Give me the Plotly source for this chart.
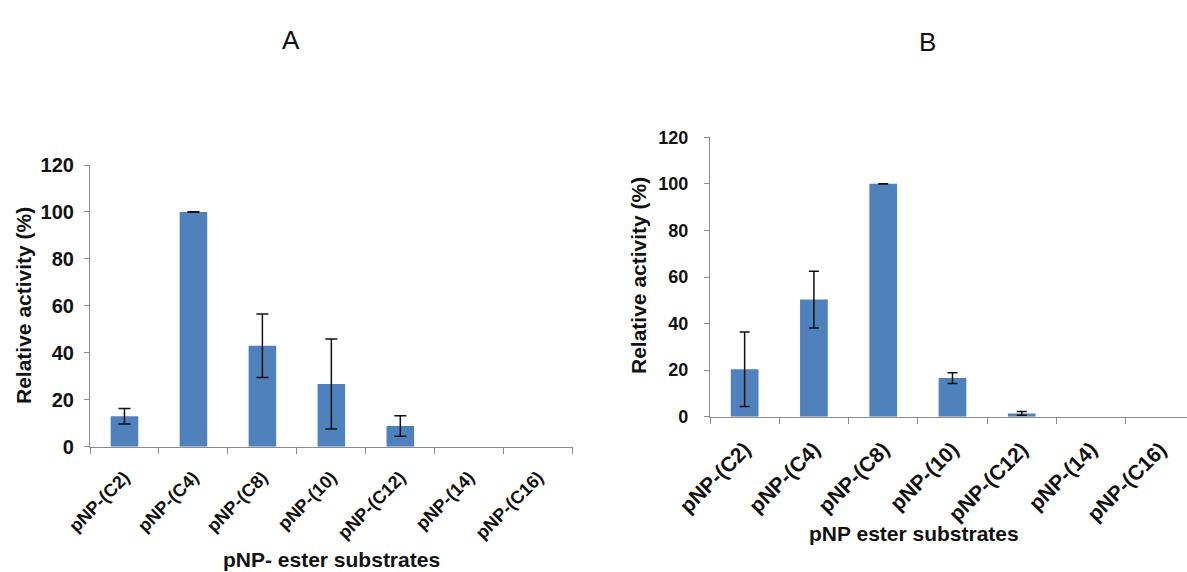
import plotly.graph_objects as go

categories = ["pNP-(C2)", "pNP-(C4)", "pNP-(C8)", "pNP-(10)", "pNP-(C12)", "pNP-(14)", "pNP-(C16)"]
values_a = [13, 100, 43, 26.7, 8.8, 0, 0]
errors_a = [3.3, 0.1, 13.5, 19.2, 4.4, 0, 0]
values_b = [20.4, 50.3, 100, 16.6, 1.4, 0, 0]
errors_b = [16, 12.2, 0.1, 2.3, 0.8, 0, 0]
y_ticks = [0, 20, 40, 60, 80, 100, 120]

W, H = 1187, 572
BAR = "#4F81BD"
AX = "#8C8C8C"
FONT = "Liberation Sans, Arial, sans-serif"

def fx(px):
    return px / W

def fy(py):
    return 1 - py / H

fig = go.Figure()


def add_series(vals, errs, xa, ya, cap):
    fig.add_trace(go.Bar(x=categories, y=vals, marker=dict(color=BAR, line=dict(width=0)),
                         xaxis=xa, yaxis=ya, showlegend=False))
    # error bars only where the bar has a measured value
    keep = [i for i, v in enumerate(vals) if v > 0]
    fig.add_trace(go.Scatter(x=[categories[i] for i in keep], y=[vals[i] for i in keep],
                             mode="markers", marker=dict(size=1, opacity=0),
                             error_y=dict(type="data", array=[errs[i] for i in keep], visible=True,
                                          color="#111111", thickness=1.5, width=cap),
                             xaxis=xa, yaxis=ya, showlegend=False, hoverinfo="skip"))


add_series(values_a, errors_a, "x", "y", 6)
add_series(values_b, errors_b, "x2", "y2", 5)

cat_w_b = (W - 710) / 6.885

common_x = dict(type="category", categoryorder="array", categoryarray=categories,
                showgrid=False, showline=True, linecolor=AX, linewidth=1.2,
                ticks="outside", tickcolor=AX, ticklen=6, tickson="boundaries",
                tickangle=-45, zeroline=False, automargin=False)
common_y = dict(range=[0, 120], tickvals=y_ticks, showgrid=False, showline=True, linecolor=AX,
                linewidth=1.2, ticks="outside", tickcolor=AX, ticklen=5, zeroline=False,
                automargin=False)

fig.update_layout(
    template="none",
    width=W, height=H, margin=dict(l=0, r=0, t=0, b=0, autoexpand=False),
    paper_bgcolor="white", plot_bgcolor="white", bargap=0.6,
    font=dict(family=FONT, color="#111111"),
    xaxis=dict(common_x, domain=[fx(90), fx(572.7)], anchor="y", range=[-0.5, 6.5],
               tickfont=dict(size=18, family=FONT, weight="bold"), ticklabelstandoff=12),
    yaxis=dict(common_y, domain=[fy(446.7), fy(165)], anchor="x",
               tickfont=dict(size=20, family=FONT, weight="bold"), ticklabelstandoff=6),
    xaxis2=dict(common_x, domain=[fx(710), 1.0], anchor="y2",
                range=[-0.5, -0.5 + (W - 710) / cat_w_b],
                tickfont=dict(size=21, family=FONT, weight="bold"), ticklabelstandoff=11),
    yaxis2=dict(common_y, domain=[fy(416.7), fy(137.3)], anchor="x2",
                tickfont=dict(size=18, family=FONT, weight="bold"), ticklabelstandoff=12),
)

ann = [
    dict(text="A", x=fx(291), y=fy(40), size=26, bold=False, angle=0),
    dict(text="B", x=fx(927), y=fy(42), size=26, bold=False, angle=0),
    dict(text="Relative activity (%)", x=fx(23), y=fy(306), size=21, bold=True, angle=-90),
    dict(text="Relative activity (%)", x=fx(638), y=fy(276), size=21, bold=True, angle=-90),
    dict(text="pNP- ester substrates", x=fx(331), y=fy(559), size=21, bold=True, angle=0),
    dict(text="pNP ester substrates", x=fx(914), y=fy(533), size=21, bold=True, angle=0),
]
for a in ann:
    fig.add_annotation(text=a["text"], x=a["x"], y=a["y"], xref="paper", yref="paper",
                       showarrow=False, textangle=a["angle"], xanchor="center", yanchor="middle",
                       font=dict(size=a["size"], family=FONT, color="#111111",
                                 weight="bold" if a["bold"] else "normal"))

fig.write_html("out.html")
